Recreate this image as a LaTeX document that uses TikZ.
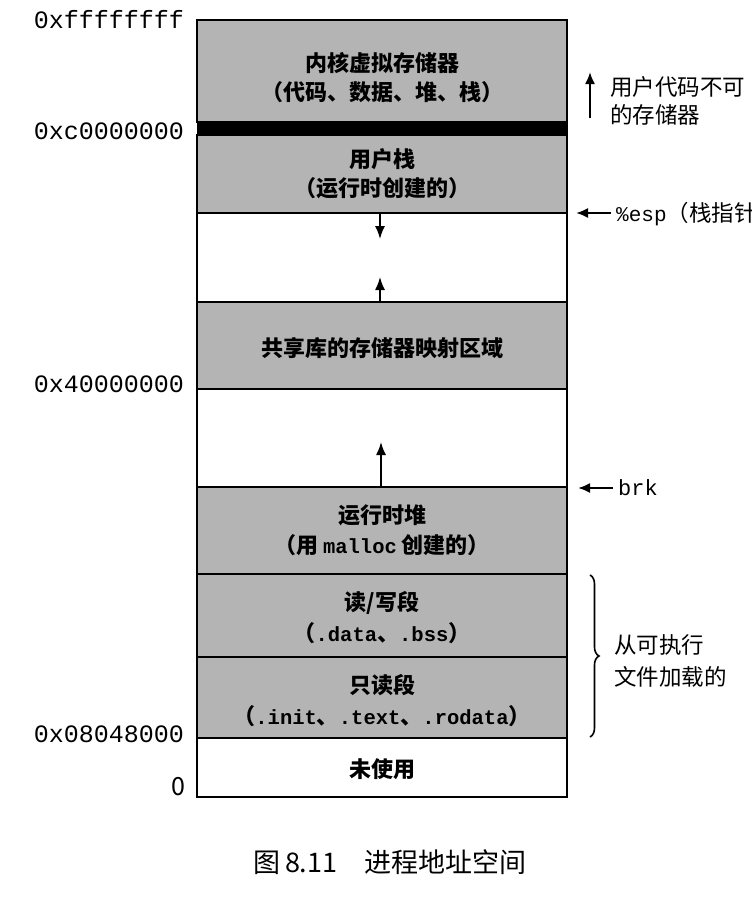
\documentclass[tikz,border=0pt]{standalone}
\usepackage{fontspec}
\setmainfont{Noto Sans CJK SC}
\newfontfamily\cjk{Noto Sans CJK SC}
\newfontfamily\mono{Liberation Mono}
\usetikzlibrary{arrows.meta,decorations.pathreplacing}
\definecolor{seggray}{HTML}{B4B4B4}
\tikzset{
  region/.style={draw=black, line width=2pt, minimum width=370pt, inner sep=0pt, anchor=center},
  grayregion/.style={region, fill=seggray},
  freeregion/.style={region, fill=white},
  boxtext/.style={font=\cjk\bfseries\fontsize{22}{26}\selectfont, inner sep=0pt, anchor=center},
  addr/.style={font=\mono\fontsize{25}{28}\selectfont, inner sep=0pt, anchor=east},
  note/.style={font=\cjk\fontsize{22.5}{26}\selectfont, inner sep=0pt, anchor=west},
  growarrow/.style={line width=1.6pt, -{Latex[length=13pt,width=10pt]}},
  ptrarrow/.style={line width=2pt, -{Latex[length=12pt,width=10pt]}},
}
\newcommand{\mt}[1]{{\mono\fontsize{20.5}{24}\selectfont #1}}
\begin{document}
\begin{tikzpicture}[x=1pt,y=-1pt]
\useasboundingbox (0,0) rectangle (752,906);
% regions
\node[grayregion, minimum height=102pt] (kern) at (382,71) {};
\node[fill=black, draw=black, minimum width=370pt, minimum height=11pt, inner sep=0pt] (bar) at (382,128.5) {};
\node[grayregion, minimum height=78pt] (stack) at (382,174) {};
\node[freeregion, minimum height=89pt] (gapa) at (382,257.5) {};
\node[grayregion, minimum height=87pt] (shared) at (382,345.5) {};
\node[freeregion, minimum height=98pt] (gapb) at (382,438) {};
\node[grayregion, minimum height=87pt] (heap) at (382,530.5) {};
\node[grayregion, minimum height=83pt] (rw) at (382,615.5) {};
\node[grayregion, minimum height=81pt] (ro) at (382,697.5) {};
\node[freeregion, minimum height=59pt] (unused) at (382,767.5) {};
% texts in regions
\node[boxtext] (t1a) at (382,63) {内核虚拟存储器};
\node[boxtext] (t1b) at (382,92) {（代码、数据、堆、栈）};
\node[boxtext] (t2a) at (382,159) {用户栈};
\node[boxtext] (t2b) at (382,188) {（运行时创建的）};
\node[boxtext] (t3) at (382,348) {共享库的存储器映射区域};
\node[boxtext] (t4a) at (382,515) {运行时堆};
\node[boxtext] (t4b) at (382,545) {（用 \mt{malloc} 创建的）};
\node[boxtext] (t5a) at (382,603) {读/写段};
\node[boxtext] (t5b) at (382,633) {（\mt{.data}、\mt{.bss}）};
\node[boxtext] (t6a) at (382,685) {只读段};
\node[boxtext] (t6b) at (382,716) {（\mt{.init}、\mt{.text}、\mt{.rodata}）};
\node[boxtext] (t7) at (382,769) {未使用};
% address labels
\node[addr] (a1) at (184,20) {0xffffffff};
\node[addr] (a2) at (184,131) {0xc0000000};
\node[addr] (a3) at (184,384) {0x40000000};
\node[addr] (a4) at (184,734) {0x08048000};
\node[font=\cjk\fontsize{25}{28}\selectfont, inner sep=0pt, anchor=east] (a5) at (186,787) {0};
% growth arrows
\coordinate (sd) at (380,239);
\coordinate (su) at (380,277);
\coordinate (hu) at (381,442);
\draw[growarrow] (380,213) coordinate (sd0) -- (sd);
\draw[growarrow] (380,302) coordinate (su0) -- (su);
\draw[growarrow] (381,487) coordinate (hu0) -- (hu);
% right annotations
\coordinate (ka) at (590,118);
\coordinate (kb) at (590,72);
\draw[ptrarrow] (ka) -- (kb);
\node[note] (n1a) at (610,87) {用户代码不可};
\node[note] (n1b) at (610,115) {的存储器};
\coordinate (espa) at (611,213);
\coordinate (espb) at (576,213);
\draw[ptrarrow] (espa) -- (espb);
\node[note] (esp) at (616,214) {{\mono\fontsize{21}{24}\selectfont \%esp}（栈指针）};
\coordinate (brka) at (613,488);
\coordinate (brkb) at (578,488);
\draw[ptrarrow] (brka) -- (brkb);
\node[note, font=\mono\fontsize{22}{26}\selectfont] (brk) at (618,488) {brk};
\coordinate (bt) at (590,575);
\coordinate (bb) at (590,737);
\draw[line width=1.6pt, decorate, decoration={brace, amplitude=9pt}] (bt) -- (bb);
\node[note] (n2a) at (614,645) {从可执行};
\node[note] (n2b) at (614,677) {文件加载的};
% caption
\node[font=\cjk\fontsize{27}{30}\selectfont, inner sep=0pt] (cap) at (390,862) {图\,8.11\quad 进程地址空间};
\end{tikzpicture}
\end{document}
